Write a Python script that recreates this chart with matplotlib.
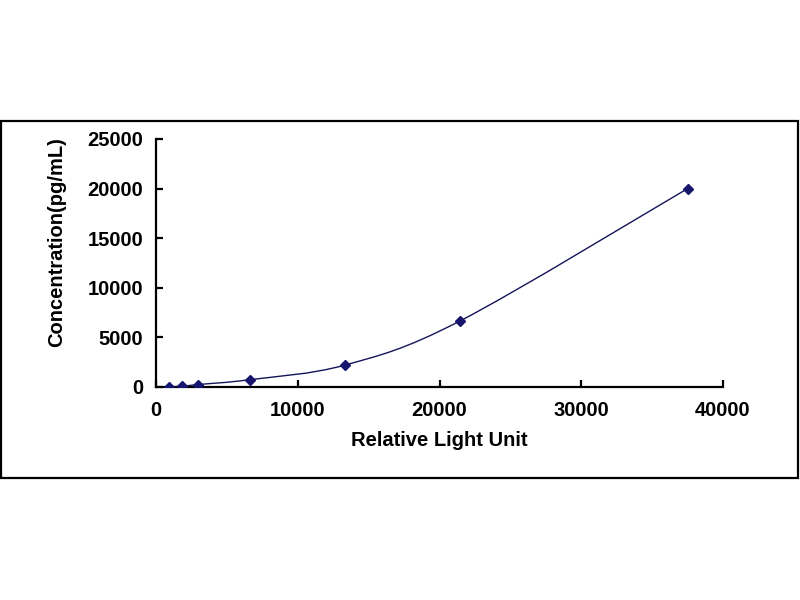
import matplotlib
matplotlib.use("Agg")
import matplotlib.pyplot as plt
import numpy as np
from matplotlib.path import Path
from matplotlib.patches import PathPatch, Rectangle

# standard curve readings
rlu = [900, 1860, 2970, 6640, 13360, 21460, 37500]
conc = [0, 82, 247, 741, 2222, 6667, 20000]

x_ticks = [0, 10000, 20000, 30000, 40000]
y_ticks = [0, 5000, 10000, 15000, 20000, 25000]

plt.rcParams['font.family'] = ['Liberation Sans', 'DejaVu Sans']
plt.rcParams['font.weight'] = 'bold'

W, H = 800, 600
fig = plt.figure(figsize=(8, 6), dpi=100)
fig.patch.set_facecolor('white')

# outer frame around the chart area
fig.patches.append(Rectangle((1 / W, 1 - 478 / H), 797 / W, 357 / H,
                             transform=fig.transFigure, fill=False,
                             edgecolor='black', linewidth=1.6))

left, right, top, bottom = 156, 723, 139, 387
ax = fig.add_axes([left / W, 1 - bottom / H, (right - left) / W, (bottom - top) / H])

# smoothed line through the points (Excel-like bezier smoothing)
pts = np.column_stack([rlu, conc]).astype(float)
scale = np.array([40000.0, 25000.0 * (bottom - top) / (right - left)])
p = pts / scale
verts = [tuple(pts[0])]
codes = [Path.MOVETO]
n = len(p)
for i in range(n - 1):
    p0 = p[i - 1] if i > 0 else p[i]
    p3 = p[i + 2] if i + 2 < n else p[i + 1]
    c1 = p[i] + (p[i + 1] - p0) / 6.0
    c2 = p[i + 1] - (p3 - p[i]) / 6.0
    verts += [tuple(c1 * scale), tuple(c2 * scale), tuple(pts[i + 1])]
    codes += [Path.CURVE4] * 3
ax.add_patch(PathPatch(Path(verts, codes), fill=False, edgecolor='#14145a', linewidth=1.0))

ax.plot(rlu, conc, linestyle='none', marker='D', markersize=5.5,
        color='#16166e', markeredgecolor='#16166e', zorder=3)

ax.set_xlim(0, 40000)
ax.set_ylim(0, 25000)
ax.set_xticks(x_ticks)
ax.set_yticks(y_ticks)

for s in ['top', 'right']:
    ax.spines[s].set_visible(False)
for s in ['left', 'bottom']:
    ax.spines[s].set_linewidth(1.6)

fs = 14.5
ax.tick_params(axis='both', direction='in', length=5, width=1.6, labelsize=fs)
ax.tick_params(axis='x', pad=10)
ax.tick_params(axis='y', pad=9)
for lab in ax.get_xticklabels() + ax.get_yticklabels():
    lab.set_fontweight('bold')

ax.set_xlabel('Relative Light Unit', fontsize=fs, fontweight='bold', va='center')
ax.xaxis.set_label_coords(0.5, -(441 - bottom) / (bottom - top))
ax.set_ylabel('Concentration(pg/mL)', fontsize=fs, fontweight='bold', va='center')
ax.yaxis.set_label_coords(-(156 - 57) / (right - left), (bottom - 242) / (bottom - top))

fig.savefig('out.png', dpi=100, facecolor='white')
